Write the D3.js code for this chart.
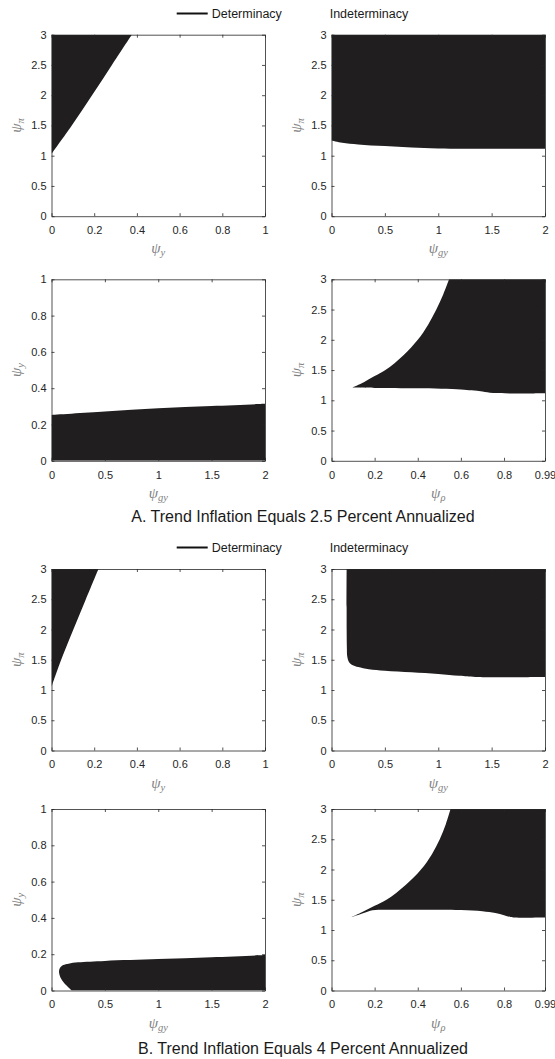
<!DOCTYPE html>
<html>
<head>
<meta charset="utf-8">
<script src="https://cdn.jsdelivr.net/npm/d3@7"></script>
<style>
body { margin: 0; background: #fff; }
svg { display: block; }
text { font-family: "Liberation Sans", Arial, sans-serif; }
.tick text { font-size: 11px; fill: #262626; }
.psi { font-family: "Liberation Serif", "DejaVu Serif", serif; font-style: italic; fill: #808080; font-size: 15px; }
</style>
</head>
<body>
<svg class="chart"></svg>
<script>
// tick values
const ticksUnit = [0, 0.2, 0.4, 0.6, 0.8, 1]
const ticksPi = [0, 0.5, 1, 1.5, 2, 2.5, 3]
const ticksGy = [0, 0.5, 1, 1.5, 2]
const ticksRho = [0, 0.2, 0.4, 0.6, 0.8, 0.99]

const legendLabels = ["Determinacy", "Indeterminacy"]
const titles = [
    "A. Trend Inflation Equals 2.5 Percent Annualized",
    "B. Trend Inflation Equals 4 Percent Annualized"
]

// region edges, [x, y]
// A: trend inflation 2.5 percent
const a1Edge = [[0, 1.03], [0.095, 1.5], [0.19, 2], [0.283, 2.5], [0.376, 3]]
const a2Edge = [[0, 1.253], [0.1, 1.215], [0.25, 1.187], [0.5, 1.159], [0.75, 1.135], [1, 1.12], [1.5, 1.115], [2, 1.115]]
const a3Edge = [[0, 0.253], [0.5, 0.272], [1, 0.289], [1.5, 0.302], [2, 0.314]]
const a4Upper = [[0.0955, 1.21], [0.15, 1.3], [0.2, 1.4], [0.25, 1.5], [0.335, 1.75], [0.4, 2], [0.448, 2.25], [0.486, 2.5], [0.518, 2.75], [0.545, 3]]
const a4Lower = [[0.0955, 1.21], [0.2, 1.205], [0.4, 1.2], [0.6, 1.18], [0.65, 1.165], [0.7, 1.145], [0.75, 1.12], [0.99, 1.117]]

// B: trend inflation 4 percent
const b1Edge = [[0, 1.05], [0.04, 1.45], [0.1, 1.98], [0.16, 2.49], [0.22, 3]]
const b2Edge = [[0.142, 3], [0.142, 2], [0.144, 1.7], [0.148, 1.55], [0.165, 1.46], [0.2, 1.41], [0.25, 1.38], [0.35, 1.345], [0.5, 1.32], [0.75, 1.295], [1, 1.265], [1.2, 1.235], [1.35, 1.215], [2, 1.215]]
const b3Lower = [[0.19, 0], [0.12, 0.04], [0.085, 0.07], [0.07, 0.105]]
const b3Upper = [[0.07, 0.105], [0.08, 0.125], [0.11, 0.14], [0.16, 0.148], [0.25, 0.155], [0.5, 0.163], [1, 0.173], [1.5, 0.183], [2, 0.195]]
const b4Upper = [[0.0915, 1.21], [0.145, 1.3], [0.2, 1.4], [0.255, 1.5], [0.345, 1.75], [0.415, 2], [0.465, 2.25], [0.502, 2.5], [0.53, 2.75], [0.552, 3]]
const b4Lower = [[0.0915, 1.21], [0.15, 1.28], [0.19, 1.325], [0.25, 1.335], [0.4, 1.335], [0.6, 1.33], [0.7, 1.31], [0.76, 1.28], [0.8, 1.245], [0.83, 1.215], [0.85, 1.205], [0.99, 1.205]]

const width = 555
const height = 1059
const colLeft = [51.5, 331.5]
const rowTop = [34.7, 279.3, 569, 809]
const pw = 213.5
const ph = 181.5
const halfOffset = [0, 534]
const titleY = [522, 1054]
const darkFill = "#201e1e"
const axisColor = "#262626"

const svg = d3.select(".chart")
    .attr("width", width)
    .attr("height", height)

// each region is a list of pieces: curved edges and straight corner runs
const panels = [
    {row: 0, col: 0, xd: [0, 1], yd: [0, 3], xt: ticksUnit, yt: ticksPi, xs: "y", ys: "π",
        region: (x0, x1, y0, y1) => [[a1Edge, true], [[[x0, y1]], false]]},
    {row: 0, col: 1, xd: [0, 2], yd: [0, 3], xt: ticksGy, yt: ticksPi, xs: "gy", ys: "π",
        region: (x0, x1, y0, y1) => [[a2Edge, true], [[[x1, y1], [x0, y1]], false]]},
    {row: 1, col: 0, xd: [0, 2], yd: [0, 1], xt: ticksGy, yt: ticksUnit, xs: "gy", ys: "y",
        region: (x0, x1, y0, y1) => [[a3Edge, true], [[[x1, y0], [x0, y0]], false]]},
    {row: 1, col: 1, xd: [0, 0.99], yd: [0, 3], xt: ticksRho, yt: ticksPi, xs: "ρ", ys: "π",
        region: (x0, x1, y0, y1) => [[a4Upper, true], [[[x1, y1]], false], [a4Lower.slice().reverse(), true]]},
    {row: 2, col: 0, xd: [0, 1], yd: [0, 3], xt: ticksUnit, yt: ticksPi, xs: "y", ys: "π",
        region: (x0, x1, y0, y1) => [[b1Edge, true], [[[x0, y1]], false]]},
    {row: 2, col: 1, xd: [0, 2], yd: [0, 3], xt: ticksGy, yt: ticksPi, xs: "gy", ys: "π",
        region: (x0, x1, y0, y1) => [[b2Edge, true], [[[x1, y1]], false]]},
    {row: 3, col: 0, xd: [0, 2], yd: [0, 1], xt: ticksGy, yt: ticksUnit, xs: "gy", ys: "y",
        region: (x0, x1, y0, y1) => [[b3Lower.concat(b3Upper.slice(1)), true], [[[x1, y0]], false]]},
    {row: 3, col: 1, xd: [0, 0.99], yd: [0, 3], xt: ticksRho, yt: ticksPi, xs: "ρ", ys: "π",
        region: (x0, x1, y0, y1) => [[b4Upper, true], [[[x1, y1]], false], [b4Lower.slice().reverse(), true]]}
]

const fmt = d => String(d)

function style_axis(sel) {
    sel.select(".domain").attr("stroke", axisColor).attr("stroke-width", 0.8)
    sel.selectAll(".tick line").attr("stroke", axisColor).attr("stroke-width", 0.8)
}

panels.forEach((p, i) => {
    const g = svg.append("g")
        .attr("transform", `translate(${colLeft[p.col]},${rowTop[p.row]})`)

    const x = d3.scaleLinear().domain(p.xd).range([0, pw])
    const y = d3.scaleLinear().domain(p.yd).range([ph, 0])

    g.append("clipPath")
        .attr("id", `clip${i}`)
        .append("rect")
        .attr("width", pw)
        .attr("height", ph)

    const smooth = d3.line()
        .x(d => x(d[0]))
        .y(d => y(d[1]))
        .curve(d3.curveCatmullRom.alpha(0.5))

    const pieces = p.region(p.xd[0], p.xd[1], p.yd[0], p.yd[1])
    let d = pieces.map(([pts, curved], k) => {
        if (!curved) return pts.map(q => `L${x(q[0])},${y(q[1])}`).join("")
        let s = smooth(pts)
        return k === 0 ? s : "L" + s.slice(1)
    }).join("") + "Z"

    g.append("path")
        .attr("clip-path", `url(#clip${i})`)
        .attr("d", d)
        .attr("fill", darkFill)

    // box with inward ticks on all sides
    g.append("g")
        .attr("transform", `translate(0,${ph})`)
        .call(d3.axisBottom(x).tickValues(p.xt).tickSizeInner(-3).tickSizeOuter(0).tickPadding(10).tickFormat(fmt))
        .call(style_axis)
    g.append("g")
        .call(d3.axisLeft(y).tickValues(p.yt).tickSizeInner(-3).tickSizeOuter(0).tickPadding(5).tickFormat(fmt))
        .call(style_axis)
    g.append("g")
        .call(d3.axisTop(x).tickValues(p.xt).tickSizeInner(-3).tickSizeOuter(0).tickFormat(""))
        .call(style_axis)
    g.append("g")
        .attr("transform", `translate(${pw},0)`)
        .call(d3.axisRight(y).tickValues(p.yt).tickSizeInner(-3).tickSizeOuter(0).tickFormat(""))
        .call(style_axis)

    // axis labels
    let xl = g.append("text")
        .attr("class", "psi")
        .attr("x", pw / 2)
        .attr("y", ph + 37)
        .attr("text-anchor", "middle")
    xl.append("tspan").text("ψ")
    xl.append("tspan").attr("dy", "0.3em").attr("font-size", "10.5px").text(p.xs)

    let yl = g.append("text")
        .attr("class", "psi")
        .attr("transform", `translate(-31,${ph / 2}) rotate(-90)`)
        .attr("text-anchor", "middle")
    yl.append("tspan").text("ψ")
    yl.append("tspan").attr("dy", "0.3em").attr("font-size", "10.5px").text(p.ys)
})

// legends and titles
halfOffset.forEach((off, k) => {
    const lg = svg.append("g").attr("transform", `translate(0,${13.5 + off})`)
    lg.append("line")
        .attr("x1", 176.7).attr("x2", 207.7)
        .attr("stroke", "#111").attr("stroke-width", 2)
    lg.append("text")
        .attr("x", 211.7).attr("dy", "0.35em")
        .attr("font-size", "12.5px").attr("fill", "#1a1a1a")
        .text(legendLabels[0])
    lg.append("rect")
        .attr("x", 296).attr("y", -4).attr("width", 30).attr("height", 8)
        .attr("fill", "#fff")
    lg.append("text")
        .attr("x", 329.7).attr("dy", "0.35em")
        .attr("font-size", "12.5px").attr("fill", "#1a1a1a")
        .text(legendLabels[1])

    svg.append("text")
        .attr("x", 303)
        .attr("y", titleY[k])
        .attr("text-anchor", "middle")
        .attr("font-size", "16px")
        .attr("fill", "#1a1a1a")
        .text(titles[k])
})
</script>
</body>
</html>
